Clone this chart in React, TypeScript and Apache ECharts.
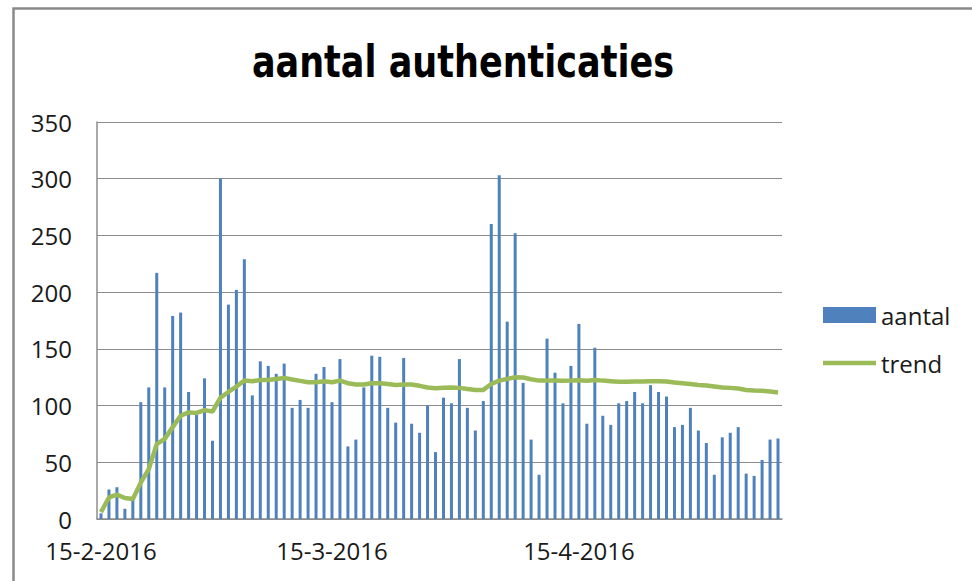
import React, { useEffect, useRef } from "react";
import * as echarts from "echarts";

const categories = [
  "15-2-2016", "16-2-2016", "17-2-2016", "18-2-2016", "19-2-2016", "20-2-2016", "21-2-2016", "22-2-2016",
  "23-2-2016", "24-2-2016", "25-2-2016", "26-2-2016", "27-2-2016", "28-2-2016", "29-2-2016",
  "1-3-2016", "2-3-2016", "3-3-2016", "4-3-2016", "5-3-2016", "6-3-2016", "7-3-2016", "8-3-2016",
  "9-3-2016", "10-3-2016", "11-3-2016", "12-3-2016", "13-3-2016", "14-3-2016", "15-3-2016", "16-3-2016",
  "17-3-2016", "18-3-2016", "19-3-2016", "20-3-2016", "21-3-2016", "22-3-2016", "23-3-2016", "24-3-2016",
  "25-3-2016", "26-3-2016", "27-3-2016", "28-3-2016", "29-3-2016", "30-3-2016", "31-3-2016",
  "1-4-2016", "2-4-2016", "3-4-2016", "4-4-2016", "5-4-2016", "6-4-2016", "7-4-2016", "8-4-2016",
  "9-4-2016", "10-4-2016", "11-4-2016", "12-4-2016", "13-4-2016", "14-4-2016", "15-4-2016", "16-4-2016",
  "17-4-2016", "18-4-2016", "19-4-2016", "20-4-2016", "21-4-2016", "22-4-2016", "23-4-2016", "24-4-2016",
  "25-4-2016", "26-4-2016", "27-4-2016", "28-4-2016", "29-4-2016", "30-4-2016",
  "1-5-2016", "2-5-2016", "3-5-2016", "4-5-2016", "5-5-2016", "6-5-2016", "7-5-2016", "8-5-2016",
  "9-5-2016", "10-5-2016",
];

const tickLabels = ["15-2-2016", "15-3-2016", "15-4-2016"];

const aantal = [
  5, 26, 28, 9, 17, 103, 116, 217, 116, 179,
  182, 112, 92, 124, 69, 300, 189, 202, 229, 109,
  139, 135, 128, 137, 98, 105, 98, 128, 134, 103,
  141, 64, 70, 116, 144, 143, 98, 85, 142, 84,
  76, 100, 59, 107, 102, 141, 98, 78, 104, 260,
  303, 174, 252, 120, 70, 39, 159, 129, 102, 135,
  172, 84, 151, 91, 83, 102, 104, 112, 102, 118,
  112, 108, 81, 83, 98, 78, 67, 39, 72, 76,
  81, 40, 38, 52, 70, 71,
];

const trend = [
  6, 19, 21.5, 18.5, 17.6, 32, 44, 66, 70.6, 81,
  91, 94, 93.5, 96, 94.7, 107, 112, 116.8, 122, 121.5,
  122.6, 122.6, 123.5, 124.4, 123, 121.8, 120.6, 120.6, 121.5, 120.6,
  122, 119.7, 118.5, 118.5, 119.7, 119.7, 119, 118.2, 118.5, 118.5,
  117.4, 116, 115.3, 115.8, 115.9, 115.6, 114.7, 113.8, 113.8, 119,
  122, 123.5, 125, 124.7, 123.2, 122, 122, 122, 121.8, 122,
  122.4, 121.8, 122.6, 122, 121.5, 120.9, 120.9, 121.2, 121.2, 121.5,
  121.5, 121.2, 120.3, 119.7, 119, 118.2, 117.6, 116.8, 116, 115.6,
  115, 113.8, 113.2, 113, 112.4, 111.5,
];

const yMin = 0;
const yMax = 350;
const yStep = 50;

const labelFont = "'Open Sans', 'Noto Sans', sans-serif";

export default function App() {
  const ref = useRef<HTMLDivElement>(null);
  useEffect(() => {
    const chart = echarts.init(ref.current!, null, { renderer: "svg" });
    chart.setOption({
      animation: false,
      backgroundColor: "#ffffff",
      graphic: [
        {
          type: "rect",
          shape: { x: 13.5, y: 8.5, width: 1000, height: 620 },
          style: { fill: "none", stroke: "#8a8a8a", lineWidth: 2.5 },
          silent: true,
        },
        {
          type: "text",
          x: 463,
          y: 62,
          scaleX: 0.885,
          style: {
            text: "aantal authenticaties",
            align: "center",
            verticalAlign: "middle",
            fontFamily: "'Liberation Sans Narrow', 'DejaVu Sans Condensed', 'Open Sans', sans-serif",
            fontWeight: "bold",
            fontSize: 44,
            fill: "#000000",
          },
        },
      ],
      legend: {
        orient: "vertical",
        left: 823,
        top: 303,
        padding: 0,
        itemWidth: 53,
        itemHeight: 16,
        itemGap: 24,
        textStyle: { fontFamily: labelFont, fontSize: 24, color: "#1a1a1a" },
        data: [
          { name: "aantal", icon: "rect" },
          { name: "trend", icon: "path://M0,0 L53,0 L53,4.5 L0,4.5 Z", itemStyle: { color: "#9BBB59" } },
        ],
      },
      grid: { left: 97, right: 190, top: 122, bottom: 62, containLabel: false },
      xAxis: {
        type: "category",
        data: categories,
        boundaryGap: true,
        axisLine: { show: true, lineStyle: { color: "#8c8c8c", width: 1.5 } },
        axisTick: { show: false },
        axisLabel: {
          interval: (_i: number, v: string) => tickLabels.includes(v),
          margin: 19,
          fontFamily: labelFont,
          fontSize: 24,
          color: "#1a1a1a",
        },
        splitLine: { show: false },
      },
      yAxis: {
        type: "value",
        min: yMin,
        max: yMax,
        interval: yStep,
        axisLine: { show: true, lineStyle: { color: "#8c8c8c", width: 1.5 } },
        axisTick: { show: false },
        axisLabel: { margin: 25, fontFamily: labelFont, fontSize: 24, color: "#1a1a1a" },
        splitLine: { show: true, lineStyle: { color: "#8c8c8c", width: 1.2 } },
      },
      series: [
        {
          name: "aantal",
          type: "bar",
          data: aantal,
          barWidth: 3,
          itemStyle: { color: "#4F81BD" },
        },
        {
          name: "trend",
          type: "line",
          data: trend,
          symbol: "none",
          lineStyle: { color: "#9BBB59", width: 4.5 },
          itemStyle: { color: "#9BBB59" },
        },
      ],
    });
    return () => chart.dispose();
  }, []);
  return (
    <div
      ref={ref}
      style={{ position: "fixed", left: 0, top: 0, width: 972, height: 581, background: "#fff" }}
    />
  );
}
